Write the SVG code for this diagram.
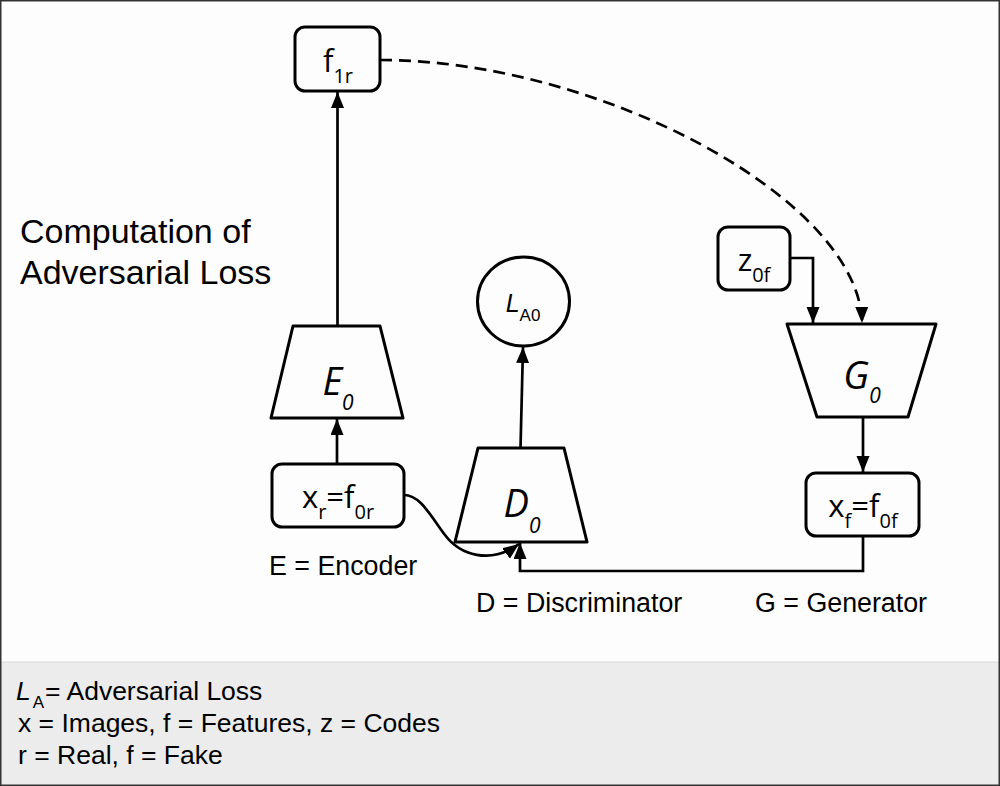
<svg xmlns="http://www.w3.org/2000/svg" width="1000" height="786" viewBox="0 0 1000 786">
<style>
.shape{fill:none;stroke:#000;stroke-width:3;stroke-linejoin:round}
.conn{fill:none;stroke:#000;stroke-width:2.7}
.dash{stroke-dasharray:12 7}
.lbl{font-family:"Liberation Sans",Arial,sans-serif;fill:#000}
.nt{font-family:"Open Sans","Noto Sans",sans-serif;fill:#000;font-size:31px}
.nti{font-family:"Open Sans","Noto Sans",sans-serif;font-style:italic;fill:#000;font-size:38px}
</style>
<defs>
<marker id="ah" markerUnits="userSpaceOnUse" markerWidth="17" markerHeight="14" refX="16" refY="6.5" orient="auto">
<path d="M0,0 L16,6.5 L0,13 Z" fill="#000"/>
</marker>
</defs>
<rect x="0" y="0" width="1000" height="786" fill="#fdfdfd"/>
<rect x="0" y="662" width="1000" height="124" fill="#ececec"/>
<line x1="0" y1="662" x2="1000" y2="662" stroke="#d8d8d8" stroke-width="1"/>
<rect x="0.75" y="0.75" width="998.5" height="784.5" fill="none" stroke="#333" stroke-width="1.5"/>

<g id="title">
<text class="lbl" x="20" y="243" font-size="34">Computation of</text>
<text class="lbl" x="20" y="284" font-size="34">Adversarial Loss</text>
</g>

<g id="connectors">
<line class="conn" x1="337.5" y1="326" x2="337.5" y2="92" marker-end="url(#ah)"/>
<line class="conn" x1="337" y1="464" x2="337" y2="419" marker-end="url(#ah)"/>
<line class="conn" x1="520.5" y1="448" x2="523" y2="347" marker-end="url(#ah)"/>
<path class="conn" d="M404,495 C420,495 430,515 445,535 C460,555 490,565 519,544" marker-end="url(#ah)"/>
<path class="conn" d="M863,536 V571 H520 V543" marker-end="url(#ah)"/>
<line class="conn" x1="863" y1="417" x2="863" y2="472" marker-end="url(#ah)"/>
<path class="conn" d="M790,258 H813 V323" marker-end="url(#ah)"/>
<path class="conn dash" d="M380,60 C600,60 860,200 862,323" marker-end="url(#ah)"/>
</g>

<g id="f1r">
<rect class="shape" x="295" y="27" width="85" height="64" rx="10"/>
<text class="nt" x="338" y="71.5" text-anchor="middle">f<tspan font-size="20" dy="11.5">1r</tspan></text>
</g>

<g id="E0">
<path class="shape" d="M293,326 H380 L403,418 H271 Z"/>
<text class="nti" x="338" y="395" text-anchor="middle">E<tspan font-size="21" dy="15">0</tspan></text>
</g>

<g id="xr">
<rect class="shape" x="272" y="464" width="132" height="63" rx="10"/>
<text class="nt" x="338" y="508" text-anchor="middle">x<tspan font-size="20" dy="11">r</tspan><tspan dy="-11">=f</tspan><tspan font-size="20" dy="11">0r</tspan></text>
</g>

<g id="LA0">
<ellipse class="shape" cx="523.5" cy="301.5" rx="46" ry="44.5"/>
<text class="lbl" x="523" y="312" font-size="25" text-anchor="middle"><tspan font-style="italic">L</tspan><tspan font-size="17" dy="9">A0</tspan></text>
</g>

<g id="D0">
<path class="shape" d="M478,448 H564 L587,542 H455 Z"/>
<text class="nti" x="522" y="517" text-anchor="middle">D<tspan font-size="21" dy="16">0</tspan></text>
</g>

<g id="z0f">
<rect class="shape" x="718" y="227" width="72" height="63" rx="10"/>
<text class="nt" x="754" y="271" text-anchor="middle">z<tspan font-size="20" dy="11">0f</tspan></text>
</g>

<g id="G0">
<path class="shape" d="M787,324 H936 L908,417 H817 Z"/>
<text class="nti" x="862" y="389" text-anchor="middle">G<tspan font-size="21" dy="14">0</tspan></text>
</g>

<g id="xf">
<rect class="shape" x="806" y="473" width="113" height="63" rx="10"/>
<text class="nt" x="863" y="517" text-anchor="middle">x<tspan font-size="20" dy="11">f</tspan><tspan dy="-11">=f</tspan><tspan font-size="20" dy="11">0f</tspan></text>
</g>

<g id="labels">
<text class="lbl" x="269" y="575" font-size="26.8">E = Encoder</text>
<text class="lbl" x="476" y="612" font-size="26.8">D = Discriminator</text>
<text class="lbl" x="755" y="612" font-size="26.8">G = Generator</text>
</g>

<g id="legend">
<text class="lbl" x="16" y="700" font-size="26.5"><tspan font-style="italic">L</tspan><tspan font-size="17" dx="2" dy="8">A</tspan><tspan dx="1" dy="-8">= Adversarial Loss</tspan></text>
<text class="lbl" x="18" y="732" font-size="26.5">x = Images, f = Features, z = Codes</text>
<text class="lbl" x="18" y="764" font-size="26.5">r = Real, f = Fake</text>
</g>
</svg>
